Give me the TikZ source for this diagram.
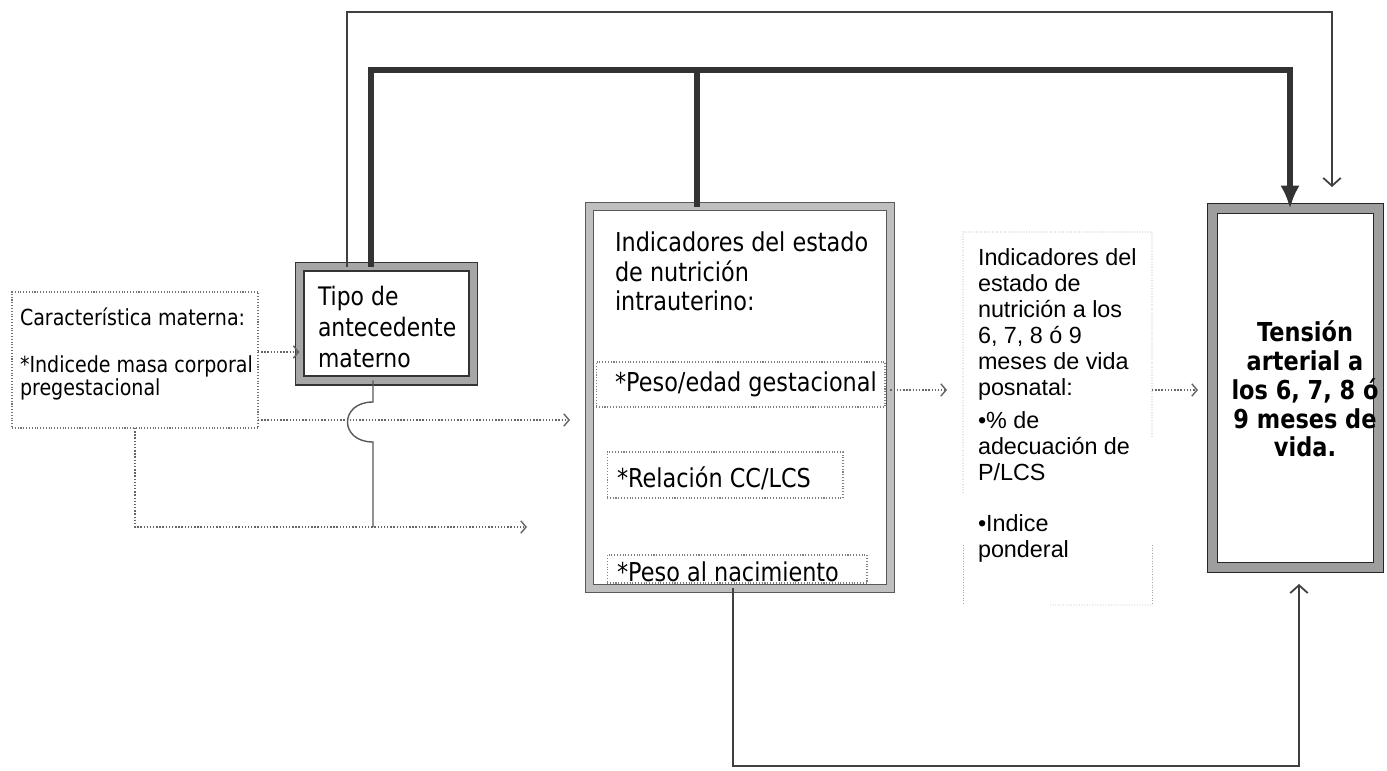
\documentclass[tikz,border=0pt]{standalone}
\usepackage{fontspec}
\newfontfamily\tah{DejaVu Sans}[FakeStretch=0.86]
\newfontfamily\ari{Liberation Sans}
\usetikzlibrary{arrows.meta}
\begin{document}
\begin{tikzpicture}[x=0.02cm,y=-0.02cm,
 every node/.style={inner sep=0pt,outer sep=0pt},
 dotbox/.style={draw=black!55,densely dotted,line width=0.6pt,fill=white},
 innerbox/.style={draw=black!50,densely dotted,line width=0.6pt},
 lightbox/.style={draw=black!35,densely dotted,line width=0.5pt},
 dblB/.style={draw=black!80,line width=0.6pt,double=black!35,double distance=4.5pt},
 dblC/.style={draw=black!65,line width=0.55pt,double=black!25,double distance=4pt},
 dblE/.style={draw=black!85,line width=0.8pt,double=black!38,double distance=4.7pt},
 thinline/.style={draw=black!75,line width=1pt},
 thickline/.style={draw=black!80,line width=3pt},
 dotline/.style={draw=black!60,densely dotted,line width=0.8pt},
 barb/.style={-{Straight Barb[length=4.5pt,width=10pt]}},
 smallbarb/.style={-{Straight Barb[length=3pt,width=7pt]}},
 bigtip/.style={-{Latex[length=13pt,width=11pt]}},
 fA/.style={font={\tah\fontsize{12.6pt}{13.1pt}\selectfont}},
 fB/.style={font={\tah\fontsize{14.5pt}{17.6pt}\selectfont}},
 fC/.style={font={\tah\fontsize{14.8pt}{16.8pt}\selectfont}},
 fD/.style={font={\ari\fontsize{13.3pt}{14.8pt}\selectfont}},
 fE/.style={font={\tah\bfseries\fontsize{14.85pt}{16.4pt}\selectfont}},
]
\fill[white] (0,0) rectangle (1387,771);
\useasboundingbox (0,0) rectangle (1387,771);

% boxes
\node[dotbox,minimum width=4.92cm,minimum height=2.72cm] (A) at (135,360) {};
\node[dblB,fill=white,minimum width=3.48cm,minimum height=2.28cm] (B) at (386.5,323.5) {};
\node[dblC,fill=white,minimum width=6.02cm,minimum height=7.64cm] (C) at (740,397.5) {};
\node[dblE,fill=white,minimum width=3.32cm,minimum height=7.18cm] (E) at (1295.5,388) {};
\node[minimum width=3.78cm,minimum height=5.22cm] (D) at (1057.5,362.5) {};
\node[minimum width=3.78cm,minimum height=1.2cm] (D2) at (1057.5,575) {};
\draw[lightbox] (D.south west) |- (D.north east) -- (1152,437);
\draw[lightbox] (D2.north west) -- (D2.south west) (D2.north east) -- (D2.south east);
\draw[lightbox,draw=black!25] (1050,605) -- (D2.south east);

\node[innerbox,minimum width=5.78cm,minimum height=0.9cm] (PE) at (740.5,384.5) {};
\node[innerbox,minimum width=4.72cm,minimum height=0.92cm] (RC) at (725,475) {};
\node[innerbox,minimum width=5.2cm,minimum height=0.56cm] (PN) at (737,569) {};

% texts
\node[fA,anchor=north west,align=left] (tA) at (20,308) {Característica materna:\\[13.6pt]*Indicede masa corporal\\pregestacional};
\node[fB,anchor=north west,align=left] (tB) at (318,286) {Tipo de\\antecedente\\materno};
\node[fC,anchor=north west,align=left] (tC) at (615,232) {Indicadores del estado\\de nutrición\\intrauterino:};
\node[fC,anchor=west] (tPE) at (615,384) {*Peso/edad gestacional};
\node[fC,anchor=west] (tRC) at (617,478) {*Relación CC/LCS};
\node[fC,anchor=west] (tPN) at (617,572) {*Peso al nacimiento};
\node[fD,anchor=north west,align=left] (tD) at (978,249) {Indicadores del\\estado de\\nutrición a los\\6, 7, 8 ó 9\\meses de vida\\posnatal:\\[4pt]•\% de\\adecuación de\\P/LCS\\[13.7pt]•Indice\\ponderal};
\node[fE,align=center] (tE) at (1305,389) {Tensión\\arterial a\\los 6, 7, 8 ó\\9 meses de\\vida.};

% coordinates
\coordinate (yAB) at (0,352);
\coordinate (y1) at (0,420);
\coordinate (p1) at (570,420);
\coordinate (p2) at (527,527);
\coordinate (xb) at (373,0);
\coordinate (xt) at (347,0);
\coordinate (xk) at (371,0);
\coordinate (xc) at (697,0);
\coordinate (xe) at (1290,0);
\coordinate (xd) at (733,0);
\coordinate (tt) at (1332,187);
\coordinate (eb) at (1299,584);
\coordinate (ycd) at (0,390);
\coordinate (pCD) at (947,390);
\coordinate (pDE) at (1198,390);
\coordinate (jc) at (697,70);

% connectors
\draw[dotline,smallbarb] (A.east |- yAB) -- (B.west |- yAB);
\draw[dotline,smallbarb] (A.east |- y1) -- (p1);
\draw[dotline,smallbarb] (A.south) |- (p2);
\draw[thinline,draw=black!65,line width=0.8pt] (B.south -| xb) -- (373,402)
   .. controls (339,402) and (339,442) .. (373,442) -- (xb |- p2);
\draw[thinline,barb] (B.north -| xt) -- (347,12) -| (tt);
\draw[thickline,bigtip] (B.north -| xk) -- (371,70) -| (E.north -| xe);
\draw[thickline] (jc) -- (C.north -| xc);
\draw[thinline,barb] (C.south -| xd) -- (733,766) -| (eb);
\draw[dotline,smallbarb] (C.east |- ycd) -- (pCD);
\draw[dotline,smallbarb] (D.east |- ycd) -- (pDE);
\end{tikzpicture}
\end{document}
